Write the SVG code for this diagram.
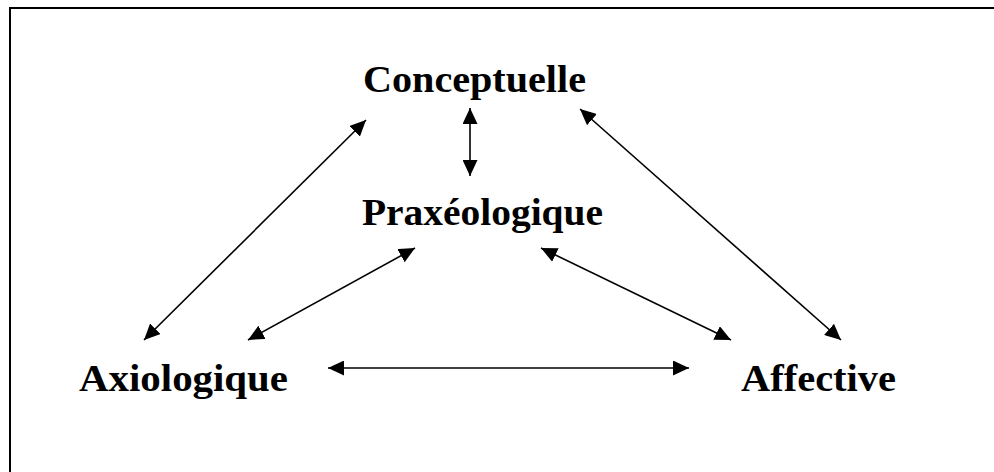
<svg xmlns="http://www.w3.org/2000/svg" width="994" height="472" viewBox="0 0 994 472">
  <style>
    .lbl { font-family: "Liberation Serif", "DejaVu Serif", serif; font-weight: bold; font-size: 37px; fill: #000; text-anchor: middle; }
    .conn { stroke: #000; stroke-width: 1.6; fill: none; marker-start: url(#ah); marker-end: url(#ah); }
    .frame { stroke: #000; stroke-width: 2; fill: none; }
  </style>
  <defs>
    <marker id="ah" markerUnits="userSpaceOnUse" markerWidth="16" markerHeight="15" refX="16" refY="7.5" orient="auto-start-reverse" viewBox="0 0 16 15">
      <path d="M0,0 L16,7.5 L0,15 Z" fill="#000"/>
    </marker>
  </defs>
  <rect width="994" height="472" fill="#fff"/>
  <path class="frame" d="M10,472 L10,8 L994,8"/>
  <g id="node-conceptuelle"><text class="lbl" x="474.5" y="92" textLength="223" lengthAdjust="spacingAndGlyphs">Conceptuelle</text></g>
  <g id="node-praxeologique"><text class="lbl" x="482.5" y="225" textLength="241" lengthAdjust="spacingAndGlyphs">Praxéologique</text></g>
  <g id="node-axiologique"><text class="lbl" x="183.5" y="391" textLength="209" lengthAdjust="spacingAndGlyphs">Axiologique</text></g>
  <g id="node-affective"><text class="lbl" x="818.5" y="391" textLength="155" lengthAdjust="spacingAndGlyphs">Affective</text></g>
  <g id="connectors">
    <line class="conn" x1="366" y1="120" x2="144" y2="340"/>
    <line class="conn" x1="470" y1="108" x2="470" y2="176"/>
    <line class="conn" x1="580" y1="109" x2="841" y2="340"/>
    <line class="conn" x1="415" y1="248" x2="248" y2="340"/>
    <line class="conn" x1="541" y1="248" x2="731" y2="340"/>
    <line class="conn" x1="328" y1="368" x2="689" y2="368"/>
  </g>
</svg>
